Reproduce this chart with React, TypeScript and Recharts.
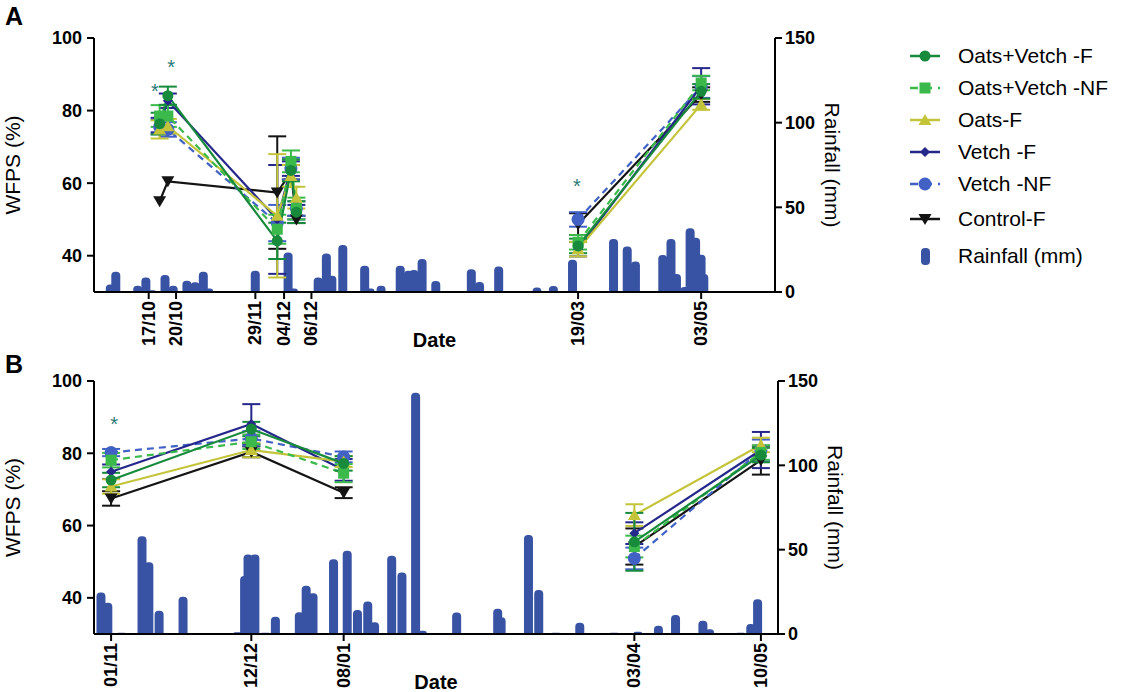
import React from "react";
import { ComposedChart, Line, Bar, XAxis, YAxis, ErrorBar, ReferenceDot } from "recharts";

// ---- panel A (x = days after 17/10) ----
const A_TICK_DAYS = [-4, 6, 35, 45.5, 55.5, 153, 198];
const A_TICK_LABELS = ["17/10", "20/10", "29/11", "04/12", "06/12", "19/03", "03/05"];
const A_SAMPLE_DAYS = [0, 3, 43, 48, 50, 153, 198];

const A_OV_F = [76.4, 84.1, 44.1, 63.5, 52, 42.7, 85.3];
const A_OV_F_ERR = [3, 2.5, 5, 3, 3, 2, 2];
const A_OV_NF = [78.5, 78.5, 47.3, 66, 53, 43.7, 87.6];
const A_OV_NF_ERR = [3, 3, 4, 3, 3, 2, 2];
const A_OATS_F = [74.8, 75.7, 51, 62, 56, 41.8, 81.7];
const A_OATS_F_ERR = [2.5, 2, 17, 3, 3, 2, 1.5];
const A_VETCH_F = [76, 82.7, 50, 64, 52, 41.8, 86.7];
const A_VETCH_F_ERR = [2, 2, 15, 2, 2, 2, 5];
const A_VETCH_NF = [75.5, 74.8, 49, 64, 53, 50, 86.5];
const A_VETCH_NF_ERR = [2, 2, 5, 3, 2, 2, 3];
const A_CONTROL = [55, 60.5, 57.4, 63, 50, 48.7, 84.4];
const A_CONTROL_ERR = [null, null, 15.5, 2, 1, 3, 2];

const A_RAIN_DAYS = [-18, -16, -8, -5, -3, 2, 5, 10, 13, 16, 18, 35, 47, 49, 58, 61, 63, 67, 75, 77, 81, 88, 91, 93, 96, 101, 114, 117, 124, 138, 144, 151, 166, 171, 174, 184, 187, 189, 192, 194, 196, 198, 199];
const A_RAIN_MM = [4.5, 12, 3.7, 8.5, 1, 10, 3.7, 6.7, 5.7, 12, 2, 12.5, 23.4, 2, 8.5, 22.8, 9.6, 27.8, 15.5, 2, 3.7, 15.5, 12.5, 13, 19.5, 6.5, 13.4, 5.9, 15, 2.6, 3.5, 19, 31.3, 26.8, 18, 21.9, 31.3, 10.6, 3, 37.6, 32, 22, 10.6];

const A_STAR_DAYS = [-1.7, 4.2, 152.6];
const A_STAR_WFPS = [86.2, 92.8, 60.1];

// ---- panel B (x = days after 01/11) ----
const B_TICK_DAYS = [0, 41, 68, 153, 190];
const B_TICK_LABELS = ["01/11", "12/12", "08/01", "03/04", "10/05"];
const B_SAMPLE_DAYS = [0, 41, 68, 153, 190];

const B_OV_F = [72.6, 86.7, 77.2, 55.5, 79.5];
const B_OV_F_ERR = [2, 2, 2, 8, 2];
const B_OV_NF = [78.1, 83.2, 74.5, 54.2, 80.2];
const B_OV_NF_ERR = [2, 2, 2.5, 3, 2];
const B_OATS_F = [70.8, 80.9, 77.7, 62.9, 82.3];
const B_OATS_F_ERR = [2, 2, 1.5, 3, 2];
const B_VETCH_F = [74.9, 88.1, 75.4, 57.9, 80.9];
const B_VETCH_F_ERR = [2, 5.5, 3, 3, 5];
const B_VETCH_NF = [80.2, 84.1, 79, 50.9, 80.8];
const B_VETCH_NF_ERR = [1, 2, 1.5, 3, 3];
const B_CONTROL = [67.5, 80.4, 69.1, 54.2, 78.1];
const B_CONTROL_ERR = [2, 1.5, 1.5, 5, 4];

const B_RAIN_DAYS = [-3, -1, 3, 9, 11, 14, 21, 37, 39, 40, 42, 45, 48, 55, 57, 59, 65, 69, 72, 75, 77, 82, 85, 89, 91, 101, 113, 114, 122, 125, 130, 137, 147, 154, 160, 165, 173, 175, 184, 187, 189];
const B_RAIN_MM = [24.6, 18.6, 0.8, 58, 42.5, 13.8, 22.1, 1, 34.4, 47.2, 47.2, 0.8, 10.3, 12.9, 28.6, 24.1, 44.3, 49.4, 14.2, 19.2, 7, 46.4, 36.4, 143, 2, 12.7, 15, 9.9, 58.7, 26.1, 0.8, 6.7, 0.8, 1.4, 4.9, 11.3, 7.9, 2.8, 0.8, 5.9, 20.6];

const B_STAR_DAYS = [0.9];
const B_STAR_WFPS = [88.9];

const RAIN_COLOR = "#3953a4";
const STAR_COLOR = "#2b7a78";
const FONT = "Arial, 'Liberation Sans', sans-serif";

// drawing order: last drawn on top
const SERIES = [
  { key: "control", name: "Control-F", color: "#141414", dash: undefined, marker: "triDown" },
  { key: "vetchNF", name: "Vetch -NF", color: "#4161c4", dash: "7 5", marker: "bigCircle" },
  { key: "vetchF", name: "Vetch -F", color: "#25288a", dash: undefined, marker: "diamond" },
  { key: "oatsF", name: "Oats-F", color: "#c3c43a", dash: undefined, marker: "triUp" },
  { key: "ovNF", name: "Oats+Vetch -NF", color: "#3cb94b", dash: "7 5", marker: "square" },
  { key: "ovF", name: "Oats+Vetch -F", color: "#178a3c", dash: undefined, marker: "circle" },
];

function sampleRows(days: number[], gapAfter: number, gapDay: number, vals: Record<string, [any[], any[]]>) {
  const rows: any[] = [];
  days.forEach((day, i) => {
    const row: any = { day };
    for (const k in vals) {
      row[k] = vals[k][0][i];
      row[k + "Err"] = vals[k][1][i];
    }
    rows.push(row);
    if (i === gapAfter) rows.push({ day: gapDay });
  });
  return rows;
}

const samplesA = sampleRows(A_SAMPLE_DAYS, 4, 100, {
  ovF: [A_OV_F, A_OV_F_ERR],
  ovNF: [A_OV_NF, A_OV_NF_ERR],
  oatsF: [A_OATS_F, A_OATS_F_ERR],
  vetchF: [A_VETCH_F, A_VETCH_F_ERR],
  vetchNF: [A_VETCH_NF, A_VETCH_NF_ERR],
  control: [A_CONTROL, A_CONTROL_ERR],
});
const samplesB = sampleRows(B_SAMPLE_DAYS, 2, 110, {
  ovF: [B_OV_F, B_OV_F_ERR],
  ovNF: [B_OV_NF, B_OV_NF_ERR],
  oatsF: [B_OATS_F, B_OATS_F_ERR],
  vetchF: [B_VETCH_F, B_VETCH_F_ERR],
  vetchNF: [B_VETCH_NF, B_VETCH_NF_ERR],
  control: [B_CONTROL, B_CONTROL_ERR],
});
const rainA = A_RAIN_DAYS.map((day, i) => ({ day, rain: A_RAIN_MM[i] }));
const rainB = B_RAIN_DAYS.map((day, i) => ({ day, rain: B_RAIN_MM[i] }));

function Marker({ type, cx, cy, color }: { type: string; cx: number; cy: number; color: string }) {
  switch (type) {
    case "circle":
      return <circle cx={cx} cy={cy} r={5.5} fill={color} />;
    case "bigCircle":
      return <circle cx={cx} cy={cy} r={6.5} fill={color} />;
    case "square":
      return <rect x={cx - 5.5} y={cy - 5.5} width={11} height={11} fill={color} />;
    case "triUp":
      return <polygon points={`${cx},${cy - 6} ${cx - 6.5},${cy + 5} ${cx + 6.5},${cy + 5}`} fill={color} />;
    case "triDown":
      return <polygon points={`${cx - 6.5},${cy - 5} ${cx + 6.5},${cy - 5} ${cx},${cy + 6}`} fill={color} />;
    case "diamond":
      return <polygon points={`${cx},${cy - 5} ${cx + 5},${cy} ${cx},${cy + 5} ${cx - 5},${cy}`} fill={color} />;
    default:
      return null;
  }
}

const makeDot = (type: string, color: string) => (p: any) => {
  if (p.cx == null || p.cy == null || p.value == null || Number.isNaN(p.cy)) return <g key={p.key ?? p.index} />;
  return (
    <g key={p.key ?? p.index}>
      <Marker type={type} cx={p.cx} cy={p.cy} color={color} />
    </g>
  );
};

function RainBar(p: any) {
  const { x, y, width, height } = p;
  if (![x, y, width, height].every(Number.isFinite) || height <= 0) return <g />;
  const w = 9;
  const x0 = x + width / 2 - w / 2;
  const x1 = x0 + w;
  const r = Math.min(4, height);
  const d = `M${x0},${y + height} L${x0},${y + r} Q${x0},${y} ${x0 + r},${y} L${x1 - r},${y} Q${x1},${y} ${x1},${y + r} L${x1},${y + height} Z`;
  return <path d={d} fill={RAIN_COLOR} />;
}

function Panel(props: {
  letter: string;
  top: number;
  width: number;
  height: number;
  marginTop: number;
  domain: [number, number];
  tickDays: number[];
  tickLabels: string[];
  rain: any[];
  samples: any[];
  starDays: number[];
  starWfps: number[];
}) {
  const { letter, top, width, height, marginTop, domain, tickDays, tickLabels, rain, samples, starDays, starWfps } = props;
  const axisLine = { stroke: "#000", strokeWidth: 2 };
  const tickText = { fill: "#000", fontSize: 18, fontWeight: 700, fontFamily: FONT };
  return (
    <div style={{ position: "absolute", left: 0, top, width, height }}>
      <div
        style={{
          position: "absolute",
          left: 5,
          top: letter === "A" ? 4 : 2,
          fontFamily: FONT,
          fontWeight: 700,
          fontSize: 25,
          lineHeight: "25px",
        }}
      >
        {letter}
      </div>
      <ComposedChart width={width} height={height} data={rain} margin={{ top: marginTop, right: 0, bottom: 0, left: 0 }}>
        <XAxis
          dataKey="day"
          type="number"
          domain={domain}
          allowDataOverflow
          ticks={tickDays}
          interval={0}
          height={58}
          axisLine={axisLine}
          tickLine={axisLine}
          tickSize={7}
          tick={(t: any) => (
            <g transform={`translate(${t.x},${t.y}) rotate(-90)`}>
              <text x={0} y={6} textAnchor="end" style={tickText}>
                {tickLabels[tickDays.indexOf(t.payload.value)]}
              </text>
            </g>
          )}
          label={(l: any) => (
            <text x={l.viewBox.x + l.viewBox.width / 2} y={l.viewBox.y + 55} textAnchor="middle" style={{ ...tickText, fontSize: 20 }}>
              Date
            </text>
          )}
        />
        <YAxis
          yAxisId="left"
          domain={[30, 100]}
          ticks={[40, 60, 80, 100]}
          allowDataOverflow
          width={94}
          axisLine={axisLine}
          tickLine={axisLine}
          tickSize={7}
          tickMargin={5}
          tick={tickText}
          label={(l: any) => {
            const cy = l.viewBox.y + l.viewBox.height / 2;
            return (
              <text x={20} y={cy} transform={`rotate(-90, 20, ${cy})`} textAnchor="middle" style={{ fontSize: 21, fontFamily: FONT, fill: "#000" }}>
                WFPS (%)
              </text>
            );
          }}
        />
        <YAxis
          yAxisId="right"
          orientation="right"
          domain={[0, 150]}
          ticks={[0, 50, 100, 150]}
          width={75}
          axisLine={axisLine}
          tickLine={axisLine}
          tickSize={7}
          tickMargin={3}
          tick={tickText}
          label={(l: any) => {
            const x = l.viewBox.x + 50;
            const cy = l.viewBox.y + l.viewBox.height / 2;
            return (
              <text x={x} y={cy} transform={`rotate(90, ${x}, ${cy})`} textAnchor="middle" style={{ fontSize: 21, fontFamily: FONT, fill: "#000" }}>
                Rainfall (mm)
              </text>
            );
          }}
        />
        <Bar yAxisId="right" dataKey="rain" fill={RAIN_COLOR} shape={RainBar} isAnimationActive={false} />
        {SERIES.map((s) => (
          <Line
            key={s.key}
            data={samples}
            yAxisId="left"
            dataKey={s.key}
            stroke={s.color}
            strokeWidth={2.2}
            strokeDasharray={s.dash}
            dot={makeDot(s.marker, s.color)}
            activeDot={false}
            connectNulls={false}
            isAnimationActive={false}
          >
            <ErrorBar dataKey={s.key + "Err"} width={9} stroke={s.color} strokeWidth={2} direction="y" />
          </Line>
        ))}
        {starDays.map((d, i) => (
          <ReferenceDot
            key={"star" + i}
            yAxisId="left"
            x={d}
            y={starWfps[i]}
            r={0}
            shape={(p: any) => (
              <text x={p.cx} y={p.cy + 10} textAnchor="middle" style={{ fontSize: 20, fontFamily: FONT, fill: STAR_COLOR }}>
                *
              </text>
            )}
          />
        ))}
      </ComposedChart>
    </div>
  );
}

function LegendBox() {
  const rows = [...SERIES].reverse();
  const ys = [26, 58, 90, 122, 154, 189];
  return (
    <svg style={{ position: "absolute", left: 900, top: 30 }} width={221} height={250}>
      {rows.map((s, i) => (
        <g key={s.key}>
          <line x1={10} x2={40} y1={ys[i]} y2={ys[i]} stroke={s.color} strokeWidth={2.5} strokeDasharray={s.dash ? "8 6" : undefined} />
          <Marker type={s.marker} cx={25} cy={ys[i]} color={s.color} />
          <text x={58} y={ys[i] + 7} style={{ fontSize: 21, fontFamily: FONT, fill: "#000" }}>
            {s.name}
          </text>
        </g>
      ))}
      <rect x={21} y={218} width={9} height={17} rx={4} fill={RAIN_COLOR} />
      <text x={58} y={233} style={{ fontSize: 21, fontFamily: FONT, fill: "#000" }}>
        Rainfall (mm)
      </text>
    </svg>
  );
}

export default function App() {
  return (
    <div style={{ position: "absolute", left: 0, top: 0, width: 1121, height: 692, background: "#fff", overflow: "hidden" }}>
      <Panel
        letter="A"
        top={0}
        width={850}
        height={350}
        marginTop={38}
        domain={[-24, 225]}
        tickDays={A_TICK_DAYS}
        tickLabels={A_TICK_LABELS}
        rain={rainA}
        samples={samplesA}
        starDays={A_STAR_DAYS}
        starWfps={A_STAR_WFPS}
      />
      <Panel
        letter="B"
        top={350}
        width={853}
        height={342}
        marginTop={31}
        domain={[-5, 195]}
        tickDays={B_TICK_DAYS}
        tickLabels={B_TICK_LABELS}
        rain={rainB}
        samples={samplesB}
        starDays={B_STAR_DAYS}
        starWfps={B_STAR_WFPS}
      />
      <LegendBox />
    </div>
  );
}
